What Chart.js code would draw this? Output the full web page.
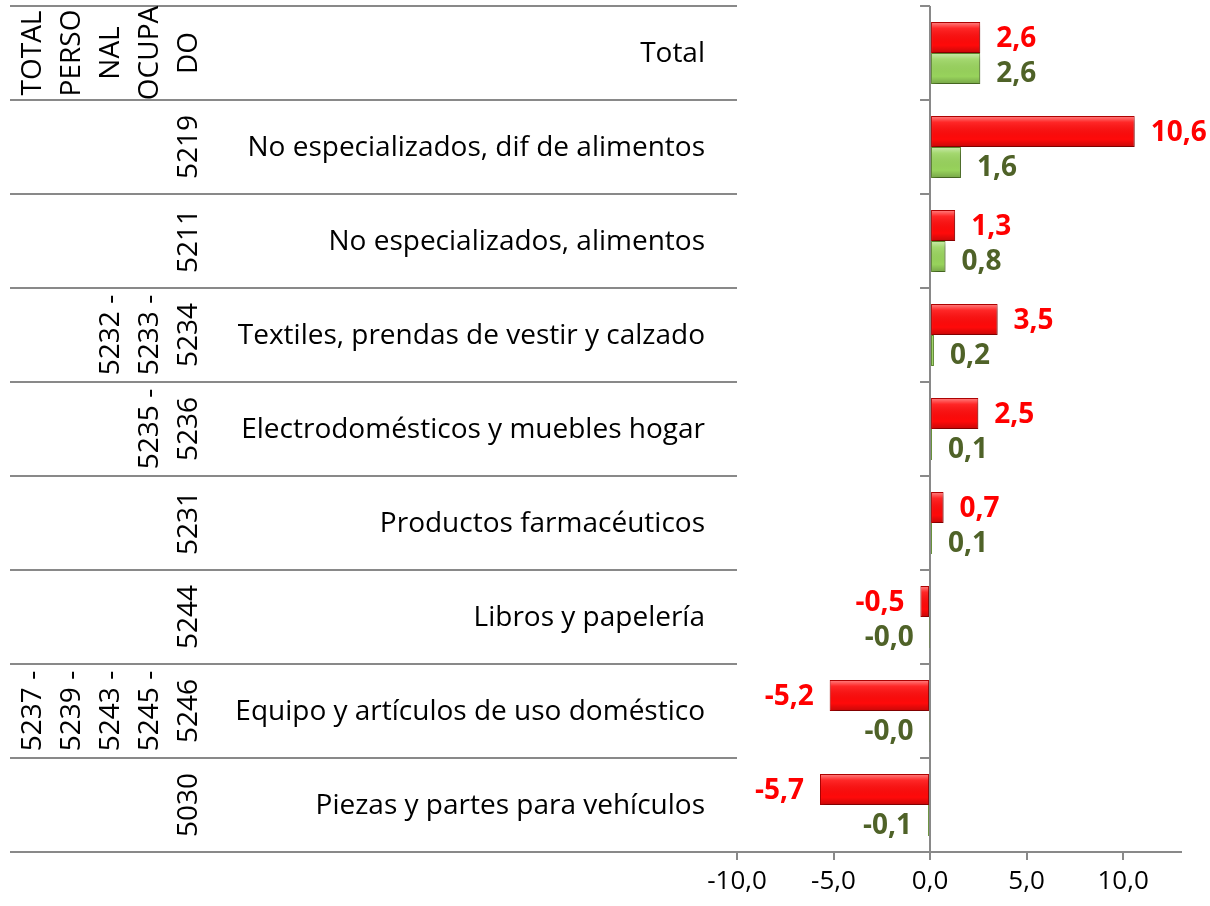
<!DOCTYPE html>
<html>
<head>
<meta charset="utf-8">
<script src="https://cdn.jsdelivr.net/npm/chart.js@4.4.1/dist/chart.umd.min.js"></script>
<style>
  html, body { margin: 0; padding: 0; background: #fff; }
  #wrap { width: 1210px; height: 906px; }
</style>
</head>
<body>
<div id="wrap"><canvas id="barChart" width="1210" height="906"></canvas></div>
<script>
// Datos del gráfico
const categorias = [
  'Total',
  'No especializados, dif de alimentos',
  'No especializados, alimentos',
  'Textiles, prendas de vestir y calzado',
  'Electrodomésticos y muebles hogar',
  'Productos farmacéuticos',
  'Libros y papelería',
  'Equipo y artículos de uso doméstico',
  'Piezas y partes para vehículos'
];
const codigos = [
  ['TOTAL', 'PERSO', 'NAL', 'OCUPA', 'DO'],
  ['5219'],
  ['5211'],
  ['5232 -', '5233 -', '5234'],
  ['5235 -', '5236'],
  ['5231'],
  ['5244'],
  ['5237 -', '5239 -', '5243 -', '5245 -', '5246'],
  ['5030']
];
const serieRoja = [2.6, 10.6, 1.3, 3.5, 2.5, 0.7, -0.5, -5.2, -5.7];
const serieVerde = [2.6, 1.6, 0.8, 0.2, 0.1, 0.1, -0.02, -0.03, -0.1];
const ticksX = [-10, -5, 0, 5, 10];

const FONT = "'Open Sans', sans-serif";
const GRIS = '#898989';
const fmt = v => v.toFixed(1).replace('.', ',');

// Líneas separadoras, etiquetas de categorías y códigos rotados
const ladoIzq = {
  id: 'ladoIzq',
  afterDraw(chart) {
    const { ctx, scales: { x, y }, chartArea } = chart;
    const medio = (y.getPixelForValue(1) - y.getPixelForValue(0)) / 2;
    const cero = x.getPixelForValue(0);
    ctx.save();
    ctx.strokeStyle = GRIS;
    ctx.lineWidth = 2;
    for (let i = 0; i <= categorias.length; i++) {
      const yy = Math.round(y.getPixelForValue(i) - medio);
      ctx.beginPath();
      ctx.moveTo(10, yy);
      ctx.lineTo(chartArea.left, yy);
      ctx.moveTo(cero - 10, yy);
      ctx.lineTo(cero, yy);
      ctx.stroke();
    }
    ctx.fillStyle = '#000';
    ctx.font = '28px ' + FONT;
    ctx.textAlign = 'right';
    ctx.textBaseline = 'middle';
    categorias.forEach((c, i) => {
      ctx.fillText(c, chartArea.left - 32, y.getPixelForValue(i) + 1);
    });
    // códigos en vertical
    ctx.textAlign = 'center';
    codigos.forEach((lineas, i) => {
      const yc = y.getPixelForValue(i);
      lineas.forEach((t, j) => {
        const xc = 189 - (lineas.length - 1 - j) * 39;
        ctx.save();
        ctx.translate(xc, yc);
        ctx.rotate(-Math.PI / 2);
        ctx.fillText(t, 0, 0);
        ctx.restore();
      });
    });
    ctx.restore();
  }
};

// Efecto de relieve en las barras y etiquetas de datos
const relieve = {
  id: 'relieve',
  beforeDatasetsDraw(chart) {
    const ctx = chart.ctx;
    ctx.save();
    ctx.shadowColor = 'rgba(0,0,0,0.35)';
    ctx.shadowBlur = 5;
    ctx.shadowOffsetX = 2;
    ctx.shadowOffsetY = 3;
  },
  afterDatasetsDraw(chart) {
    const ctx = chart.ctx;
    ctx.restore();
    ctx.save();
    chart.data.datasets.forEach((ds, di) => {
      const meta = chart.getDatasetMeta(di);
      meta.data.forEach((el, i) => {
        const x0 = Math.min(el.x, el.base), x1 = Math.max(el.x, el.base);
        const h = el.height, top = el.y - h / 2;
        if (x1 - x0 < 3) return;
        const g = ctx.createLinearGradient(0, top, 0, top + h);
        g.addColorStop(0, 'rgba(255,255,255,0.5)');
        g.addColorStop(0.2, 'rgba(255,255,255,0.12)');
        g.addColorStop(0.75, 'rgba(0,0,0,0)');
        g.addColorStop(1, 'rgba(0,0,0,0.22)');
        ctx.fillStyle = g;
        ctx.fillRect(x0 + 1, top + 1, x1 - x0 - 2, h - 2);
      });
    });
    // etiquetas
    ctx.font = 'bold 28px ' + FONT;
    ctx.textBaseline = 'middle';
    const colores = ['#FF0000', '#4F6228'];
    const desp = [2, 6];
    chart.data.datasets.forEach((ds, di) => {
      const meta = chart.getDatasetMeta(di);
      ctx.fillStyle = colores[di];
      meta.data.forEach((el, i) => {
        const v = ds.data[i];
        const neg = fmt(v).startsWith('-');
        ctx.textAlign = neg ? 'right' : 'left';
        ctx.fillText(fmt(v), el.x + (neg ? -16 : 16), el.y + desp[di]);
      });
    });
    ctx.restore();
  }
};

new Chart(document.getElementById('barChart').getContext('2d'), {
  type: 'bar',
  data: {
    labels: categorias,
    datasets: [{
      data: serieRoja,
      backgroundColor: '#FF0a0a',
      borderColor: '#B00000',
      borderWidth: 1,
      borderSkipped: false,
      categoryPercentage: 0.66,
      barPercentage: 1
    }, {
      data: serieVerde,
      backgroundColor: '#98D35C',
      borderColor: '#5E8A2E',
      borderWidth: 1,
      borderSkipped: false,
      categoryPercentage: 0.66,
      barPercentage: 1
    }]
  },
  options: {
    responsive: false,
    animation: false,
    indexAxis: 'y',
    layout: { padding: { left: 737, top: 6, right: 29, bottom: 0 } },
    plugins: { legend: { display: false }, tooltip: { enabled: false } },
    scales: {
      x: {
        min: -10,
        max: 13,
        afterFit: s => { s.height = 54; },
        afterBuildTicks: s => { s.ticks = ticksX.map(v => ({ value: v })); },
        border: { display: true, color: GRIS, width: 2 },
        grid: {
          color: c => (c.tick && c.tick.value === 0) ? GRIS : 'rgba(0,0,0,0)',
          lineWidth: 2,
          tickColor: GRIS,
          tickLength: 8
        },
        ticks: {
          color: '#000',
          padding: 6,
          font: { family: FONT, size: 26 },
          callback: v => fmt(v)
        }
      },
      y: { display: false }
    }
  },
  plugins: [ladoIzq, relieve]
});
</script>
</body>
</html>
